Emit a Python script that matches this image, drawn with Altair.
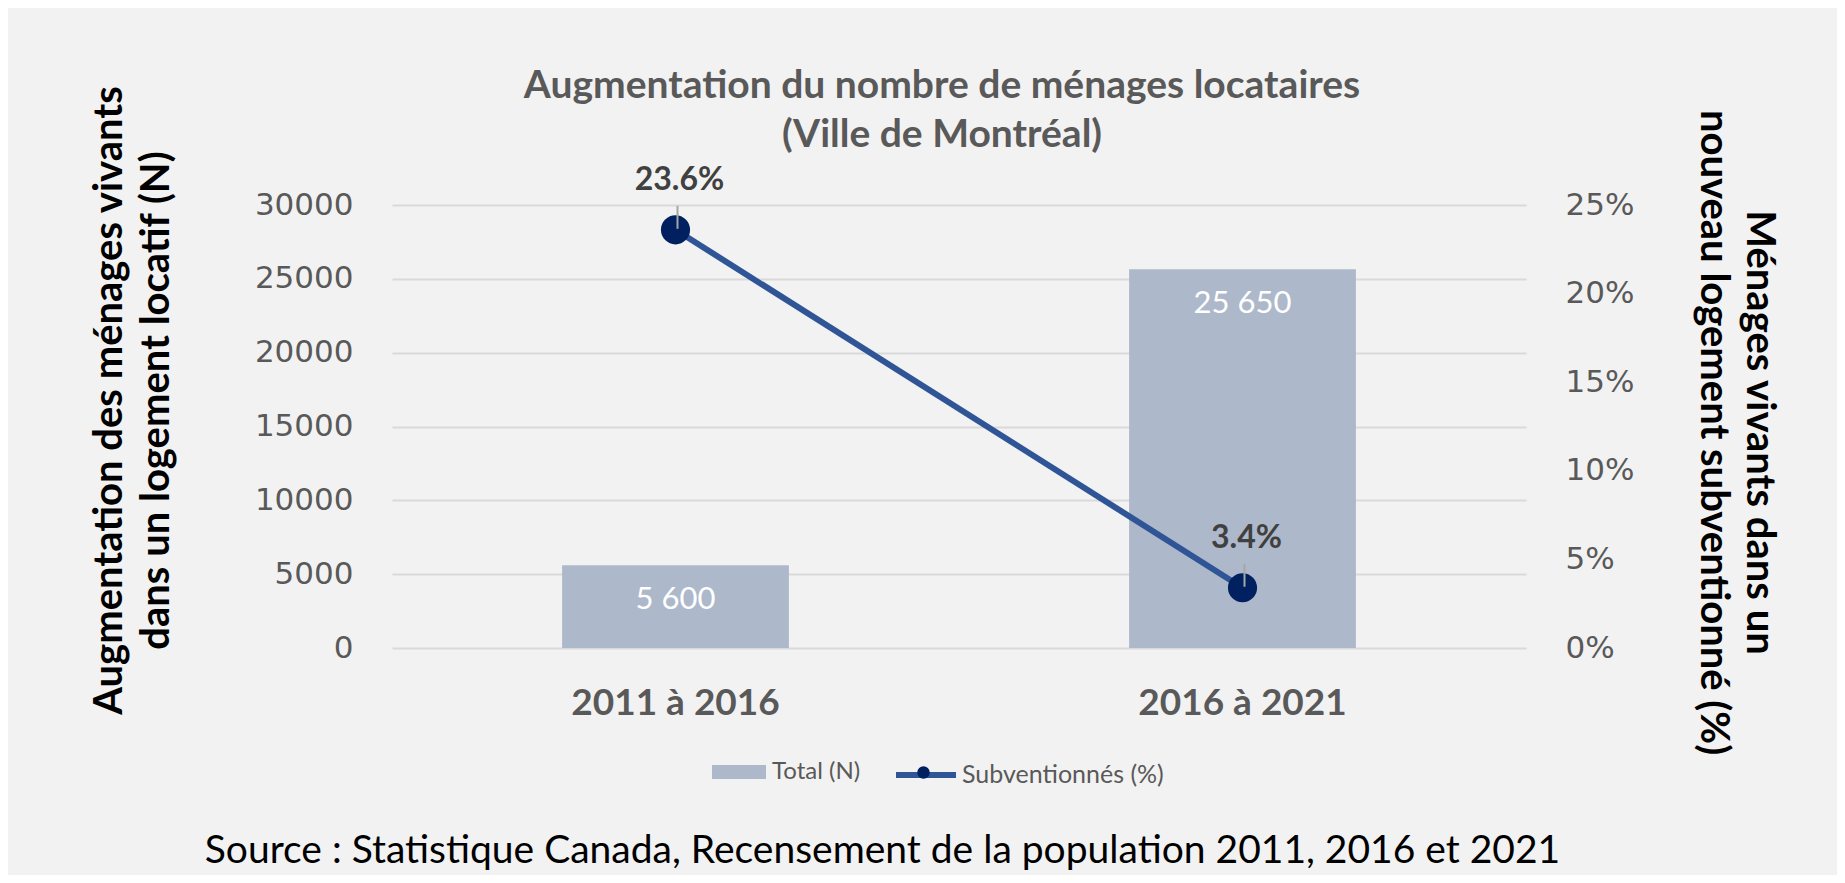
import altair as alt
import pandas as pd

# ---- data ----
periodes = ["2011 à 2016", "2016 à 2021"]
total_n = [5600, 25650]
subv_pct = [23.6, 3.4]
left_ticks = [0, 5000, 10000, 15000, 20000, 25000, 30000]
right_ticks = [0, 5, 10, 15, 20, 25]
serie_bar = "Total (N)"
serie_line = "Subventionnés (%)"

titre = ["Augmentation du nombre de ménages locataires", "(Ville de Montréal)"]
titre_gauche = ["Augmentation des ménages vivants", "dans un logement locatif (N)"]
titre_droite = ["Ménages vivants dans un", "nouveau logement subventionné (%)"]
source = "Source : Statistique Canada, Recensement de la population 2011, 2016 et 2021"

df = pd.DataFrame({
    "periode": periodes,
    "total": total_n,
    "subv": subv_pct,
    "total_lbl": [f"{v:,}".replace(",", " ") for v in total_n],
    "subv_lbl": [f"{v:.1f}%" for v in subv_pct],
    "serie_bar": [serie_bar] * len(periodes),
    "serie_line": [serie_line] * len(periodes),
    "serie_pt": ["pt"] * len(periodes),
})

FONT = "Lato"
TICK_FONT = "DejaVu Sans"
GRAY = "#595959"

x_enc = alt.X(
    "periode:N",
    sort=periodes,
    scale=alt.Scale(paddingInner=0.6, paddingOuter=0.3),
    axis=alt.Axis(
        title=source,
        titleFont=FONT, titleFontSize=39, titleFontWeight="normal", titleColor="#000000",
        titleX=490, titleY=202, titleBaseline="middle", titleAlign="center", titleAngle=0,
        titleLimit=0,
        labelFont=FONT, labelFontSize=37, labelFontWeight="bold", labelColor=GRAY,
        labelPadding=55, labelBaseline="middle", labelAngle=0, labelLimit=0,
        domain=False, ticks=False, grid=False,
    ),
)

y_left = alt.Y(
    "total:Q",
    scale=alt.Scale(domain=[0, 30000], nice=False),
    axis=alt.Axis(
        values=left_ticks, format="d", orient="left",
        labelFont=TICK_FONT, labelFontSize=31, labelColor=GRAY, labelPadding=39,
        domain=False, ticks=False,
        grid=True, gridColor="#d9d9d9", gridWidth=2,
        title=titre_gauche,
        titleFont=FONT, titleFontSize=40, titleFontWeight="bold", titleColor="#000000",
        titleLineHeight=47, titleAngle=-90, titleBaseline="middle", titleAlign="center",
        titleX=-283, titleY=195, titleLimit=0,
    ),
)

y_right = alt.Y(
    "subv:Q",
    scale=alt.Scale(domain=[0, 25], nice=False),
    axis=alt.Axis(
        values=right_ticks, orient="right", labelExpr="datum.value + '%'",
        labelFont=TICK_FONT, labelFontSize=31, labelColor=GRAY, labelPadding=39,
        domain=False, ticks=False, grid=False,
        title=titre_droite,
        titleFont=FONT, titleFontSize=40, titleFontWeight="bold", titleColor="#000000",
        titleLineHeight=46, titleAngle=90, titleBaseline="middle", titleAlign="center",
        titleX=232, titleY=227, titleLimit=0,
    ),
)

base = alt.Chart(df)

bars = base.mark_bar(opacity=1).encode(
    x=x_enc,
    y=y_left,
    color=alt.Color(
        "serie_bar:N",
        scale=alt.Scale(domain=[serie_bar], range=["#adb9ca"]),
        legend=alt.Legend(
            title=None, orient="none", legendX=320, legendY=540, padding=0,
            symbolType="M-1,-0.26H1V0.26H-1Z", symbolSize=2916, symbolStrokeWidth=0,
            symbolOpacity=1, labelLimit=0,
            labelFont=FONT, labelFontSize=24, labelColor=GRAY, labelOffset=6,
        ),
    ),
)

bar_labels = base.mark_text(
    font=FONT, fontSize=31, color="#ffffff", baseline="middle", dy=35
).encode(
    x=x_enc,
    y=y_left,
    text="total_lbl:N",
)

left = alt.layer(bars, bar_labels)

line = base.mark_line(strokeWidth=6).encode(
    x=x_enc,
    y=y_right,
    stroke=alt.Stroke(
        "serie_line:N",
        scale=alt.Scale(domain=[serie_line], range=["#2f5597"]),
        legend=alt.Legend(
            title=None, orient="none", legendX=501, legendY=537, padding=0,
            symbolType="stroke", symbolSize=3600, symbolStrokeWidth=6,
            labelFont=FONT, labelFontSize=25, labelColor=GRAY, labelOffset=3, labelLimit=0,
        ),
    ),
)

points = base.mark_point(filled=True, size=850, color="#002060", opacity=1).encode(
    x=x_enc,
    y=y_right,
    shape=alt.Shape(
        "serie_pt:N",
        scale=alt.Scale(domain=["pt"], range=["circle"]),
        legend=alt.Legend(
            title=None, orient="none", legendX=525, legendY=561, padding=0,
            symbolSize=154, symbolFillColor="#002060", symbolStrokeWidth=0,
            symbolOpacity=1, labelExpr="''",
        ),
    ),
)

leaders = base.mark_rule(
    color="#a6a6a6", strokeWidth=2, yOffset=-24, y2Offset=-1, xOffset=2
).encode(
    x=x_enc,
    y=y_right,
    y2="subv:Q",
)

pt_labels = base.mark_text(
    font=FONT, fontSize=32, fontWeight="bold", color="#404040", baseline="middle", dy=-50, dx=4
).encode(
    x=x_enc,
    y=y_right,
    text="subv_lbl:N",
)

right = alt.layer(line, points, leaders, pt_labels)

chart = (
    alt.layer(left, right)
    .resolve_scale(y="independent")
    .properties(
        width=1134,
        height=443,
        background="#f2f2f2",
        padding={"left": 384, "top": 197, "right": 311, "bottom": 227},
        autosize=alt.AutoSizeParams(type="none"),
        title=alt.TitleParams(
            text=titre, font=FONT, fontSize=39, fontWeight="bold", color=GRAY,
            lineHeight=49, anchor="middle", frame="group", dx=-17,
            baseline="bottom", offset=-109,
        ),
    )
    .configure_view(stroke=None)
)

chart.save("out.html", embed_options={"renderer": "svg", "actions": False})
